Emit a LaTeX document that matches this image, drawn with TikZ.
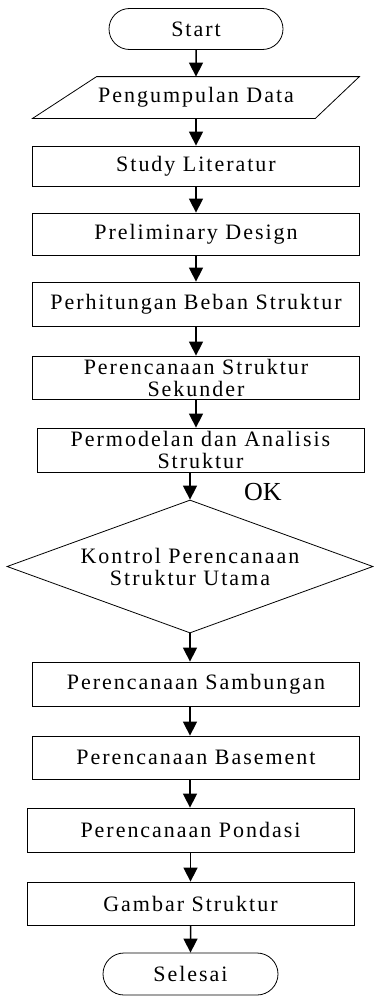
\documentclass[tikz,border=0pt]{standalone}
\usepackage{fontspec}
\setmainfont{Liberation Serif}[LetterSpace=9]
\newfontfamily\okfont{Liberation Serif}
\usepackage{tikz}
\usetikzlibrary{arrows.meta, positioning, shapes.geometric, shapes.misc, calc}

\tikzset{
  box/.style={draw, line width=0.8pt, rectangle, minimum width=327pt, inner sep=0pt, align=center, font=\fontsize{22}{22}\selectfont},
  terminal/.style={draw, line width=0.8pt, rounded rectangle, minimum width=174pt, minimum height=41pt, inner sep=0pt, font=\fontsize{22}{22}\selectfont},
  decision/.style={draw, line width=0.8pt, diamond, aspect=2.75, minimum width=366pt, minimum height=133pt, inner sep=0pt, align=center, font=\fontsize{22}{22}\selectfont},
  arr/.style={-{Triangle[length=14pt,width=14pt]}, line width=1.5pt}
}

\begin{document}
\begin{tikzpicture}[x=1pt,y=-1pt]
                \useasboundingbox (0,0) rectangle (373,998);

                % Flowchart steps
                \node[terminal] (start) at (196,29) {Start};
                \node[box,draw=none,minimum width=326pt,minimum height=41pt] (pd) at (196,97.5) {Pengumpulan Data};
                \node[box,minimum height=40pt] (study) at (196,166) {Study Literatur};
                \node[box,minimum height=42pt] (prelim) at (196,234) {Preliminary Design};
                \node[box,minimum height=44pt] (beban) at (196,304) {Perhitungan Beban Struktur};
                \node[box,minimum height=43pt] (sekunder) at (196,377.5) {Perencanaan Struktur\\Sekunder};
                \node[box,minimum height=44pt] (permodelan) at (200.5,450) {Permodelan dan Analisis\\Struktur};
                \node[decision] (kontrol) at (190,566.5) {Kontrol Perencanaan\\Struktur Utama};
                \node[box,minimum height=44pt] (sambungan) at (196,684) {Perencanaan Sambungan};
                \node[box,minimum height=43pt] (basement) at (196,757.5) {Perencanaan Basement};
                \node[box,minimum height=44pt] (pondasi) at (190.5,830) {Perencanaan Pondasi};
                \node[box,minimum height=43pt] (gambar) at (190.5,903.5) {Gambar Struktur};
                \node[terminal,minimum width=175pt,minimum height=42pt] (selesai) at (190.5,974) {Selesai};

                % Input shape round the data node
                \draw[line width=0.8pt] (pd.south west) -- ([xshift=64pt]pd.north west) -- (pd.north east) -- ([xshift=-44pt]pd.south east) -- cycle;

                % Arrows
                \draw[arr] (start) -- (pd);
                \draw[arr] (pd) -- (study);
                \draw[arr] (study) -- (prelim);
                \draw[arr] (prelim) -- (beban);
                \draw[arr] (beban) -- (sekunder);
                \draw[arr] (sekunder.south) -- (sekunder.south |- permodelan.north);
                \draw[arr] (permodelan.south -| kontrol.north) -- (kontrol.north);
                \draw[arr] (kontrol.south) -- (kontrol.south |- sambungan.north);
                \draw[arr] (sambungan.south -| kontrol.south) -- (basement.north -| kontrol.south);
                \draw[arr] (basement.south -| kontrol.south) -- (pondasi.north -| kontrol.south);
                \draw[arr] (pondasi) -- (gambar);
                \draw[arr] (gambar) -- (selesai);

                \node[font=\okfont\fontsize{26}{26}\selectfont] (ok) at (263,492) {OK};
            \end{tikzpicture}
\end{document}
